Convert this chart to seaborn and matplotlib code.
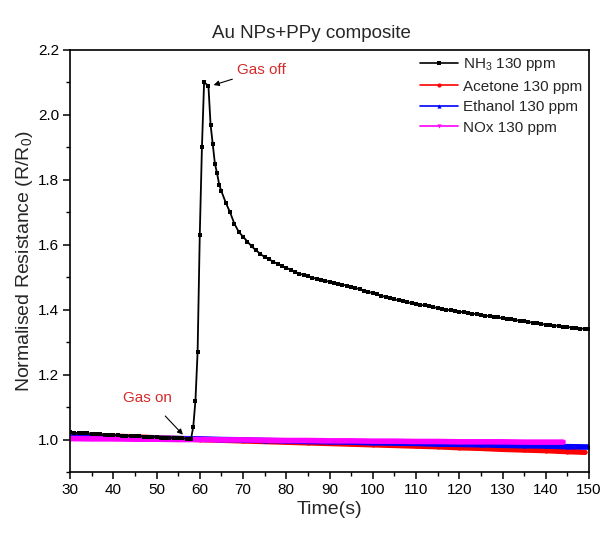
import numpy as np
import pandas as pd
import matplotlib
matplotlib.use("Agg")
import matplotlib.pyplot as plt
from matplotlib.lines import Line2D
from matplotlib.ticker import MultipleLocator
import seaborn as sns

# NH3 response: baseline, rise after exposure, then recovery after the gas is removed
nh3_time = ([30, 31, 32, 33, 34, 35, 36, 37, 38, 39, 40, 41, 42, 43, 44, 45, 46, 47,
             48, 49, 50, 51, 52, 53, 54, 55, 56, 57, 58,
             58.5, 59, 59.5, 60, 60.5, 61, 62, 62.5, 63, 63.5, 64, 64.5, 65]
            + list(range(66, 151)))
nh3_resp = [1.022, 1.021, 1.020, 1.019, 1.019, 1.018, 1.017, 1.016, 1.015, 1.015,
            1.014, 1.013, 1.012, 1.012, 1.011, 1.010, 1.010, 1.009, 1.008, 1.008,
            1.007, 1.006, 1.006, 1.005, 1.005, 1.004, 1.004, 1.003, 1.003,
            1.04, 1.12, 1.27, 1.63, 1.90, 2.10, 2.09, 1.97, 1.91, 1.85, 1.82, 1.785, 1.765,
            1.73, 1.70, 1.665, 1.64, 1.625, 1.61, 1.595, 1.583, 1.572, 1.562,
            1.555, 1.548, 1.541, 1.535, 1.529, 1.523, 1.517, 1.511, 1.507, 1.503,
            1.499, 1.495, 1.492, 1.489, 1.486, 1.483, 1.480, 1.477, 1.474, 1.471,
            1.467, 1.463, 1.459, 1.455, 1.451, 1.447, 1.443, 1.439, 1.436, 1.432,
            1.429, 1.426, 1.423, 1.420, 1.418, 1.415, 1.413, 1.410, 1.408, 1.405,
            1.403, 1.400, 1.398, 1.396, 1.394, 1.392, 1.390, 1.388, 1.386, 1.384,
            1.382, 1.380, 1.378, 1.376, 1.374, 1.372, 1.370, 1.368, 1.366, 1.364,
            1.362, 1.360, 1.358, 1.356, 1.354, 1.353, 1.351, 1.350, 1.348, 1.347,
            1.345, 1.344, 1.342, 1.341, 1.340]

acetone_time = [30, 35, 40, 45, 50, 55, 60, 65, 70, 75, 80, 85, 90, 95, 100, 105,
                110, 115, 120, 125, 130, 135, 140, 145, 149]
acetone_resp = [1.015, 1.012, 1.010, 1.008, 1.005, 1.003, 1.000, 0.998, 0.996, 0.994,
                0.992, 0.990, 0.988, 0.986, 0.984, 0.982, 0.980, 0.978, 0.975, 0.973,
                0.970, 0.968, 0.966, 0.963, 0.961]

ethanol_time = [30, 35, 40, 45, 50, 55, 60, 65, 70, 75, 80, 85, 90, 95, 100, 105,
                110, 115, 120, 125, 130, 135, 140, 145, 150]
ethanol_resp = [1.008, 1.007, 1.006, 1.005, 1.004, 1.003, 1.002, 1.000, 0.999, 0.997,
                0.996, 0.994, 0.993, 0.992, 0.990, 0.989, 0.988, 0.986, 0.985, 0.984,
                0.982, 0.981, 0.980, 0.978, 0.977]

nox_time = [30, 35, 40, 45, 50, 55, 60, 65, 70, 75, 80, 85, 90, 95, 100, 105,
            110, 115, 120, 125, 130, 135, 140, 144]
nox_resp = [1.003, 1.002, 1.002, 1.001, 1.001, 1.000, 1.000, 0.999, 0.999, 0.998,
            0.997, 0.997, 0.996, 0.996, 0.995, 0.995, 0.994, 0.994, 0.993, 0.993,
            0.993, 0.992, 0.992, 0.992]

labels = ["NH$_\\mathregular{3}$ 130 ppm", "Acetone 130 ppm",
          "Ethanol 130 ppm", "NOx 130 ppm"]
colors = ["#000000", "#ff0000", "#0000ff", "#ff00ff"]
markers = ["s", "o", "^", "v"]

sns.set_theme(style="ticks")
plt.rcParams["font.family"] = ["Liberation Sans", "DejaVu Sans"]
plt.rcParams["mathtext.default"] = "regular"

fig = plt.figure(figsize=(6.11, 5.34), dpi=100)
ax = fig.add_axes([0.1146, 0.1161, 0.8494, 0.7903])

# low-response gases: dense marker bands
for t, r, c, m in [(acetone_time, acetone_resp, colors[1], markers[1]),
                   (ethanol_time, ethanol_resp, colors[2], markers[2]),
                   (nox_time, nox_resp, colors[3], markers[3])]:
    sns.lineplot(x=t, y=r, ax=ax, color=c, lw=4.0, marker=m, markersize=3,
                 markeredgewidth=0, sort=False, estimator=None, legend=False)

sns.lineplot(x=nh3_time, y=nh3_resp, ax=ax, color=colors[0], lw=1.3, marker="s",
             markersize=3.4, markeredgewidth=0, sort=False, estimator=None, legend=False)

ax.set_xlim(30, 150)
ax.xaxis.set_major_locator(MultipleLocator(10))
ax.xaxis.set_minor_locator(MultipleLocator(5))
ax.yaxis.set_minor_locator(MultipleLocator(0.1))
ax.set_yticks([1.0, 1.2, 1.4, 1.6, 1.8, 2.0, 2.2])
ax.set_ylim(0.9, 2.2)
ax.tick_params(axis="both", which="major", direction="out", length=5, width=1.1,
               labelsize=11, color="black", labelcolor="black", pad=3)
ax.tick_params(axis="both", which="minor", direction="out", length=3, width=1.0,
               color="black")
for s in ax.spines.values():
    s.set_color("black")
    s.set_linewidth(1.2)
    s.set_visible(True)

ax.set_xlabel("Time(s)", fontsize=14, labelpad=3)
ax.set_ylabel("Normalised Resistance (R/R$_\\mathregular{0}$)", fontsize=14, labelpad=2)
fig.text(311.5 / 611, 1 - 38 / 534, "Au NPs+PPy composite", fontsize=13.5,
         ha="center", va="baseline")

handles = [Line2D([], [], color=c, lw=1.2, marker=m, markersize=3, markeredgewidth=0)
           for c, m in zip(colors, markers)]
ax.legend(handles, labels, loc="upper left", frameon=False, fontsize=11,
          handlelength=2.5, handletextpad=0.3, labelspacing=0.42,
          bbox_to_anchor=(0.674, 0.985), borderaxespad=0, borderpad=0)

red = "#d42a2a"
ax.annotate("Gas off", xy=(63.2, 2.092), xytext=(68.6, 2.138), color=red,
            fontsize=11, va="center", ha="left",
            arrowprops=dict(arrowstyle="-|>", color="black", lw=0.8,
                            mutation_scale=8, shrinkA=1, shrinkB=0))
ax.annotate("Gas on", xy=(56.1, 1.015), xytext=(48.0, 1.129), color=red,
            fontsize=11, va="center", ha="center",
            arrowprops=dict(arrowstyle="-|>", color="black", lw=0.8,
                            mutation_scale=8, shrinkA=8, shrinkB=0))

fig.savefig("out.png", dpi=100)
